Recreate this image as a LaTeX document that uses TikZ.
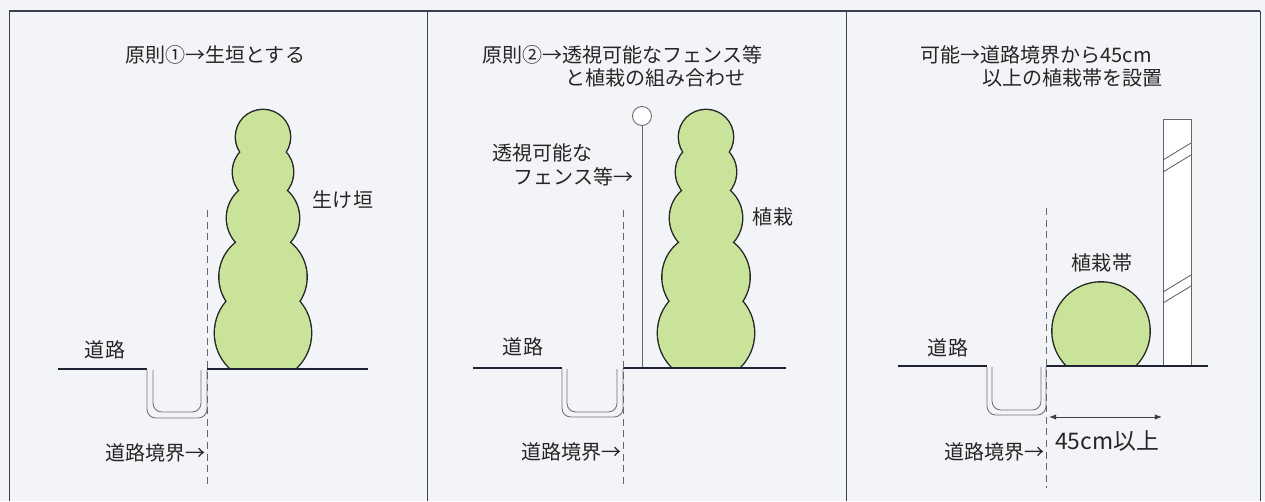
\documentclass[tikz,border=0pt]{standalone}
\usepackage{fontspec}
\usetikzlibrary{arrows.meta}
\newfontfamily\jpfont{Noto Sans CJK JP}

\definecolor{paper}{HTML}{F2F4F8}
\definecolor{leaf}{HTML}{C9E39B}
\definecolor{road}{HTML}{1E2233}
\definecolor{frameline}{HTML}{3A3F52}

% one clipped hedge of five stacked balls, centred at #1
\newcommand{\DrawHedge}[2]{%
	\begin{scope}
		\clip (0,0) rectangle (1265,#2);
		\foreach \cy/\r in {137/27, 172/30, 218/36, 277/43.5, 333/48}
			\draw[line width=1.6pt, draw=black!85] (#1,\cy) circle (\r);
		\foreach \cy/\r in {137/27, 172/30, 218/36, 277/43.5, 333/48}
			\fill[leaf] (#1,\cy) circle (\r);
	\end{scope}}

\begin{document}
\begin{tikzpicture}[x=0.02cm, y=-0.02cm, font=\jpfont\fontsize{11.4}{14}\selectfont]
	\tikzstyle{LabelStyle} = [inner sep = 0pt, text = black!85]
	\tikzstyle{GroundStyle} = [draw = road, line width = 1.4pt]
	\tikzstyle{GutterStyle} = [draw = black!55, line width = 0.5pt, rounded corners = 5]
	\tikzstyle{BorderStyle} = [draw = black!60, dash pattern = on 4pt off 2.6pt, line width = 0.5pt]
	\tikzstyle{PoleStyle} = [draw = black!60, line width = 0.5pt]
	\useasboundingbox (0,0) rectangle (1265,501);
	\fill[paper] (0,0) rectangle (1265,501);

	% panel frame
	\coordinate (f0) at (9,11);
	\coordinate (f1) at (1260,11);
	\draw[frameline, line width = 0.9pt] (f0) -- (f1);
	\foreach \fx in {9, 427, 846, 1260}
		\draw[frameline, line width = 0.55pt] (\fx,11) -- (\fx,501);

	% ---- panel 1 ----
	\node[LabelStyle, anchor = west] (t1) at (125,55) {原則①→生垣とする};
	\DrawHedge{263}{369}
	\node[LabelStyle] (hedge1) at (343,200) {生け垣};
	\coordinate (g1a) at (58,369);
	\coordinate (g1b) at (147,369);
	\coordinate (g1c) at (207,369);
	\coordinate (g1d) at (368,369);
	\draw[GroundStyle] (g1a) -- (g1b);
	\draw[GroundStyle] (g1c) -- (g1d);
	\draw[GutterStyle] (147,370) -- (147,418) -- (207,418) -- (207,370);
	\draw[GutterStyle] (153,370) -- (153,412) -- (201,412) -- (201,370);
	\coordinate (b1top) at (207,210);
	\coordinate (b1bot) at (207,485);
	\draw[BorderStyle] (b1top) -- (b1bot);
	\node[LabelStyle] (road1) at (105,350) {道路};
	\node[LabelStyle, anchor = east] (line1) at (206,453) {道路境界→};

	% ---- panel 2 ----
	\node[LabelStyle, anchor = west] (t2a) at (482,55) {原則②→透視可能なフェンス等};
	\node[LabelStyle, anchor = west] (t2b) at (565,78) {と植栽の組み合わせ};
	\DrawHedge{706}{368}
	\node[LabelStyle] (hedge2) at (773,217) {植栽};
	\node[PoleStyle, circle, minimum size = 0.38cm, inner sep = 0pt, fill = white] (knob) at (642,116) {};
	\coordinate (pole) at (642,368);
	\draw[PoleStyle] (knob.south) -- (pole);
	\node[LabelStyle, anchor = west] (fence1) at (492,153) {透視可能な};
	\node[LabelStyle, anchor = west] (fence2) at (513,177) {フェンス等→};
	\coordinate (g2a) at (473,368);
	\coordinate (g2b) at (562,368);
	\coordinate (g2c) at (623,368);
	\coordinate (g2d) at (786,368);
	\draw[GroundStyle] (g2a) -- (g2b);
	\draw[GroundStyle] (g2c) -- (g2d);
	\draw[GutterStyle] (562,369) -- (562,417) -- (623,417) -- (623,369);
	\draw[GutterStyle] (567,369) -- (567,412) -- (617,412) -- (617,369);
	\coordinate (b2top) at (623,210);
	\coordinate (b2bot) at (623,485);
	\draw[BorderStyle] (b2top) -- (b2bot);
	\node[LabelStyle] (road2) at (523,347) {道路};
	\node[LabelStyle, anchor = east] (line2) at (622,452) {道路境界→};

	% ---- panel 3 ----
	\node[LabelStyle, anchor = west] (t3a) at (920,55) {可能→道路境界から45cm};
	\node[LabelStyle, anchor = west] (t3b) at (982,78) {以上の植栽帯を設置};
	\begin{scope}
		\clip (0,0) rectangle (1265,366);
		\draw[line width = 1.6pt, draw = black!85] (1101,331) circle (48.5);
		\fill[leaf] (1101,331) circle (48.5);
	\end{scope}
	\node[LabelStyle] (belt) at (1102,263) {植栽帯};
	% striped post
	\draw[PoleStyle, fill = white] (1163,119) rectangle (1191,366);
	\foreach \sy in {160, 172, 292, 303}
		\draw[PoleStyle] (1163,\sy) -- (1191,\sy-17);
	\coordinate (g3a) at (898,366);
	\coordinate (g3b) at (987,366);
	\coordinate (g3c) at (1046,366);
	\coordinate (g3d) at (1208,366);
	\draw[GroundStyle] (g3a) -- (g3b);
	\draw[GroundStyle] (g3c) -- (g3d);
	\draw[GutterStyle] (987,367) -- (987,415) -- (1046,415) -- (1046,367);
	\draw[GutterStyle] (992,367) -- (992,410) -- (1041,410) -- (1041,367);
	\coordinate (b3top) at (1046,208);
	\coordinate (b3bot) at (1046,488);
	\draw[BorderStyle] (b3top) -- (b3bot);
	\coordinate (dimL) at (1049,417);
	\coordinate (dimR) at (1162,417);
	\draw[black!75, line width = 0.5pt, {Latex[length=4pt,width=3pt]}-{Latex[length=4pt,width=3pt]}] (dimL) -- (dimR);
	\node[LabelStyle, font = \jpfont\fontsize{13}{15}\selectfont] (dist) at (1107,441) {45cm以上};
	\node[LabelStyle] (road3) at (948,348) {道路};
	\node[LabelStyle, anchor = east] (line3) at (1045,452) {道路境界→};
\end{tikzpicture}
\end{document}
